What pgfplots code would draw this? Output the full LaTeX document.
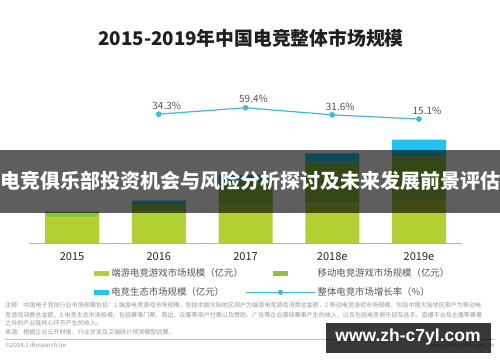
\documentclass[border=0pt]{standalone}
\usepackage{fontspec}
\setmainfont{Noto Sans CJK SC}
\newfontfamily\wm{Liberation Sans}
\usepackage{pgfplots}
\pgfplotsset{compat=1.18}
\definecolor{cpc}{RGB}{178,207,52}
\definecolor{cmob}{RGB}{140,196,62}
\definecolor{ceco}{RGB}{32,196,240}
\definecolor{cline}{RGB}{62,186,214}
\definecolor{ctxt}{RGB}{85,85,85}
\definecolor{cfoot}{RGB}{150,150,150}
\pgfplotsset{
  boxlegend/.style={legend image code/.code={\fill[##1] (0pt,-2.5pt) rectangle (15pt,2.5pt);}},
  linelegend/.style={legend image code/.code={\draw[mark repeat=2,mark phase=2,##1] plot coordinates {(0pt,0pt) (7.5pt,0pt) (15pt,0pt)};}},
}
\begin{document}
\begin{tikzpicture}[x=1pt,y=1pt]
\useasboundingbox (0,0) rectangle (500,362);
\fill[white] (0,0) rectangle (500,362);
\node[font=\bfseries\fontsize{18.8}{22}\selectfont, text=black!88] at (251,323.5) {2015-2019年中国电竞整体市场规模};

\begin{scope}[shift={(28.625pt,118.5pt)}]
\begin{axis}[
 at={(0pt,0pt)}, anchor=south west, scale only axis,
 width=433.75pt, height=120pt,
 xmin=-0.5, xmax=4.5, ymin=0, ymax=1200,
 ybar stacked, bar width=54pt,
 axis x line=bottom, axis y line=none,
 x axis line style={-, draw=black!30, line width=1.2pt},
 xtick={0,1,2,3,4}, xticklabels={2015,2016,2017,2018e,2019e},
 major tick length=0pt,
 xticklabel style={font=\fontsize{11}{13}\selectfont, text=black!85, anchor=center, yshift=-13pt},
 clip=false,
 legend columns=2,
 legend cell align=left,
 legend style={at={(0.151,-0.19)}, anchor=north west, draw=none, fill=none, inner sep=0pt,
   font=\fontsize{9.4}{11}\selectfont, text=ctxt,
   /tikz/every even column/.append style={column sep=0.5pt}, row sep=5.5pt},
]
\addplot[fill=cpc, draw=none, boxlegend]
  coordinates {(0,260) (1,320) (2,380) (3,410) (4,430)};
\addlegendentry{端游电竞游戏市场规模（亿元）}
\addplot[fill=cmob, draw=none, boxlegend]
  coordinates {(0,55) (1,75) (2,245) (3,398) (4,441)};
\addlegendentry{移动电竞游戏市场规模（亿元）}
\addplot[fill=ceco, draw=none, boxlegend]
  coordinates {(0,5) (1,35) (2,60) (3,94) (4,167)};
\addlegendentry{电竞生态市场规模（亿元）}
\addlegendimage{cline, line width=1.2pt, mark=*, mark size=2pt, mark options={fill=cline}, linelegend}
\addlegendentry{整体电竞市场增长率（\%）}
\end{axis}

\begin{axis}[
 at={(0pt,0pt)}, anchor=south west, scale only axis,
 width=433.75pt, height=120pt,
 xmin=-0.5, xmax=4.5, ymin=-472.95, ymax=-2.35,
 axis x line=none, axis y line=none, xtick=\empty, ytick=\empty,
 clip=false,
 /pgf/number format/assume math mode=true,
 nodes near coords={\pgfmathprintnumber[fixed,precision=1,fixed zerofill]{\pgfplotspointmeta}\%},
 nodes near coords style={font=\fontsize{10}{12}\selectfont, text=ctxt, anchor=center, xshift=8pt, yshift=8.5pt},
]
\addplot[cline, line width=1.2pt, mark=*, mark size=2.2pt, mark options={fill=cline}]
  coordinates {(1,34.3) (2,59.4) (3,31.6) (4,15.1)};
\end{axis}
\end{scope}

% banner overlay
\fill[black, opacity=0.63] (0,149) rectangle (500,212);
\node[font=\bfseries\fontsize{20}{24}\selectfont, text=white] at (250,181) {电竞俱乐部投资机会与风险分析探讨及未来发展前景评估};

% footnotes
\begin{scope}[every node/.style={anchor=west, inner sep=0pt, font=\fontsize{6.05}{7}\selectfont, text=cfoot}]
\node at (5,56.3) {注释：中国电子竞技行业市场规模包括：1.端游电竞游戏市场规模，包括中国大陆地区用户为端游电竞游戏消费总金额，2.移动电竞游戏市场规模，包括中国大陆地区用户为移动电};
\node at (5,47) {竞游戏消费总金额；3.电竞生态市场规模，包括赛事门票、周边、众筹等用户付费以及赞助、广告等企业围绕赛事产生的收入，以及包括电竞俱乐部及选手、直播平台及主播等赛事};
\node at (5,38.5) {之外的产业链核心环节产生的收入。};
\node at (5,30.3) {来源：根据企业公开财报、行业访谈及艾瑞统计预测模型估算。};
\node at (5,16.5) {©2018.1 iResearch Inc};
\node[anchor=east] at (495,16.5) {www.iresearch.com.cn};
\end{scope}
\draw[black!25, line width=0.6pt] (5,22.7) -- (495,22.7);

% watermark
\fill[black, opacity=0.78] (326,9.3) rectangle (491,39);
\node[font=\wm\bfseries\fontsize{17.5}{20}\selectfont, text=white] at (408,25.3) {www.zh-c7yl.com};
\end{tikzpicture}
\end{document}
